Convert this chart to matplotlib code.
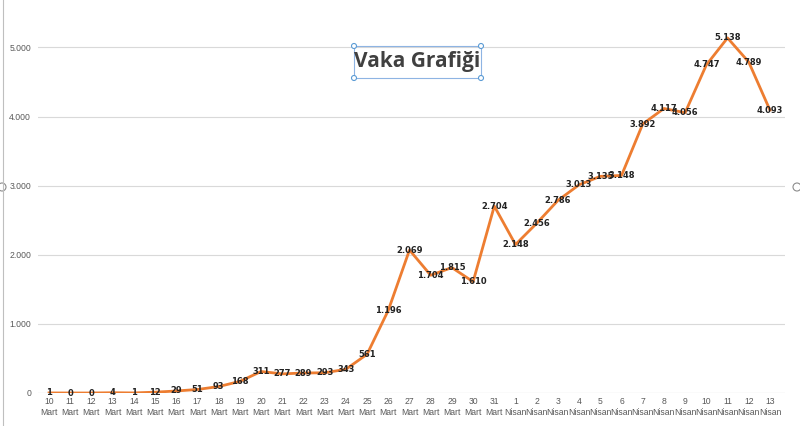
import matplotlib.pyplot as plt
from matplotlib.patches import Rectangle, Ellipse

# daily cases, 10 Mart - 13 Nisan
days = [str(d) for d in range(10, 32)] + [str(d) for d in range(1, 14)]
months = ['Mart'] * 22 + ['Nisan'] * 13
cases = [1, 0, 0, 4, 1, 12, 29, 51, 93, 168, 311, 277, 289, 293, 343, 561,
         1196, 2069, 1704, 1815, 1610, 2704, 2148, 2456, 2786, 3013, 3135,
         3148, 3892, 4117, 4056, 4747, 5138, 4789, 4093]
yticks = [0, 1000, 2000, 3000, 4000, 5000]


def fmt(v):
    return '{:,}'.format(v).replace(',', '.')


fig = plt.figure(figsize=(8, 4.26), dpi=100)
W, H = 800, 426
ax = fig.add_axes([38 / W, 1 - 393 / H, (785 - 38) / W, (393 - 6) / H])

x = list(range(len(cases)))
ax.plot(x, cases, color='#ED7D31', lw=2, solid_joinstyle='round', zorder=3)
for xi, v in zip(x, cases):
    ax.text(xi, v, fmt(v), ha='center', va='center', fontsize=6,
            fontweight='bold', color='#222222', zorder=4)

ax.set_xlim(-0.52, len(cases) - 1 + 0.71)
ax.set_ylim(0, 5600)
ax.set_yticks(yticks)
ax.set_yticklabels([fmt(v) for v in yticks], family='Liberation Sans')
ax.set_xticks(x)
ax.set_xticklabels([d + '\n' + m for d, m in zip(days, months)],
                   family='Liberation Sans', linespacing=1.25)
ax.tick_params(axis='both', length=0, labelsize=6.2, colors='#595959')
ax.tick_params(axis='x', pad=3)
ax.tick_params(axis='y', pad=5)
ax.grid(axis='y', color='#D9D9D9', lw=0.8)
ax.set_axisbelow(True)
for s in ax.spines.values():
    s.set_visible(False)
ax.axhline(0, color='#D9D9D9', lw=0.8, zorder=1)


def handle(cx, cy, r, ec):
    fig.patches.append(Ellipse((cx / W, 1 - cy / H), 2 * r / W, 2 * r / H,
                               transform=fig.transFigure, fc='white',
                               ec=ec, lw=0.8))


# title with selection box
fig.text(417 / W, 1 - 62 / H, 'Vaka Grafiği', ha='center', va='center',
         fontsize=15, fontweight='bold', color='#404040', family='Open Sans')
bx0, by0, bx1, by1 = 354, 46, 481, 78
fig.patches.append(Rectangle((bx0 / W, 1 - by1 / H), (bx1 - bx0) / W,
                             (by1 - by0) / H, transform=fig.transFigure,
                             fill=False, ec='#8EB4E3', lw=0.8))
for cx in (bx0, bx1):
    for cy in (by0, by1):
        handle(cx, cy, 2.5, '#5B9BD5')

# chart frame edge and side handles
fig.add_artist(plt.Line2D([3 / W, 3 / W], [0, 1], color='#BFBFBF', lw=0.8))
for cx in (2, 797):
    handle(cx, 187, 4, '#8C8C8C')

fig.savefig('out.png', dpi=100, facecolor='white')
